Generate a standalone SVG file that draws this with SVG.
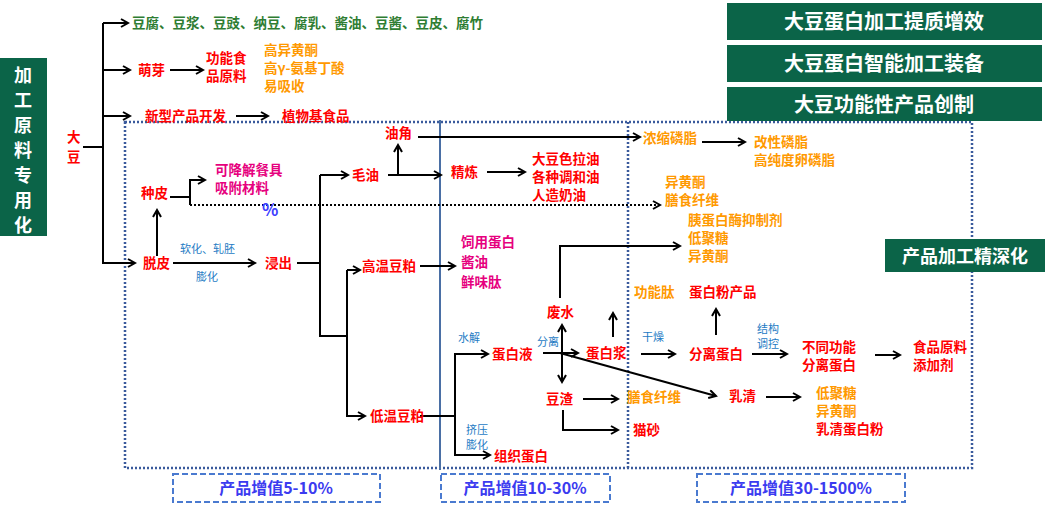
<svg xmlns="http://www.w3.org/2000/svg" width="1047" height="505" viewBox="0 0 1047 505">
<defs>
<marker id="a" markerWidth="10" markerHeight="10" refX="8" refY="5" orient="auto" markerUnits="userSpaceOnUse"><path d="M1,1 L8,5 L1,9" fill="none" stroke="#000" stroke-width="2"/></marker>
<style>
text{font-family:"Noto Sans CJK SC","Liberation Sans",sans-serif;font-weight:bold;font-size:13.5px}
.r{fill:#ff0000}.o{fill:#ff9900}.p{fill:#e6007e}.g{fill:#2e7d32}
.b{fill:#1e7bc4;font-size:11px;font-weight:normal}
.w{fill:#fff;font-size:20px}
.t{fill:#fff;font-size:18px}
.v{fill:#3b3bf0;font-size:16px}
.c path,.c line,.c polyline{stroke:#000;stroke-width:2;fill:none}
.ar{marker-end:url(#a)}
.dot{stroke:#3a5a9c;stroke-width:2.5;stroke-dasharray:2 2;fill:none}
.dash{stroke:#4a7ad0;stroke-width:2;stroke-dasharray:6 3;fill:none}
.gb{fill:#0b6448}
</style>
</defs>
<rect width="1047" height="505" fill="#fff"/>
<g id="frames">
<rect class="dot" x="125" y="122" width="847" height="346"/>
<line class="dot" x1="628" y1="122" x2="628" y2="468"/>
<line x1="440" y1="120" x2="440" y2="470" stroke="#4a6fa5" stroke-width="2"/>
</g>
<g id="leftTitle"><rect class="gb" x="0" y="58" width="47" height="178"/>
<text class="t" x="23" y="82" text-anchor="middle">加</text><text class="t" x="23" y="107" text-anchor="middle">工</text><text class="t" x="23" y="132" text-anchor="middle">原</text><text class="t" x="23" y="157" text-anchor="middle">料</text><text class="t" x="23" y="182" text-anchor="middle">专</text><text class="t" x="23" y="207" text-anchor="middle">用</text><text class="t" x="23" y="232" text-anchor="middle">化</text></g>
<g id="titles">
<rect class="gb" x="727" y="3" width="315" height="37"/><text class="w" x="884" y="29" text-anchor="middle">大豆蛋白加工提质增效</text>
<rect class="gb" x="727" y="45" width="315" height="37"/><text class="w" x="884" y="71" text-anchor="middle">大豆蛋白智能加工装备</text>
<rect class="gb" x="727" y="87" width="315" height="34"/><text class="w" x="884" y="112" text-anchor="middle">大豆功能性产品创制</text>
<rect class="gb" x="885" y="239" width="160" height="33"/><text class="t" x="965" y="263" text-anchor="middle">产品加工精深化</text>
</g>
<g id="valueLabels">
<rect class="dash" x="173" y="474" width="207" height="28"/><text class="v" x="276" y="494" text-anchor="middle">产品增值5-10%</text>
<rect class="dash" x="441" y="474" width="169" height="28"/><text class="v" x="525" y="494" text-anchor="middle">产品增值10-30%</text>
<rect class="dash" x="697" y="474" width="208" height="28"/><text class="v" x="801" y="494" text-anchor="middle">产品增值30-1500%</text>
</g>
<g id="connectors" class="c">
<line x1="83" y1="147" x2="103" y2="147"/>
<line x1="103" y1="23" x2="103" y2="264"/>
<line class="ar" x1="103" y1="23" x2="128" y2="23"/>
<line class="ar" x1="103" y1="70" x2="130" y2="70"/>
<line class="ar" x1="170" y1="70" x2="203" y2="70"/>
<line class="ar" x1="103" y1="116" x2="130" y2="116"/>
<line class="ar" x1="236" y1="116" x2="268" y2="116"/>
<polyline class="ar" points="103,263 135,263"/>
<line class="ar" x1="157" y1="256" x2="157" y2="210"/>
<line x1="170" y1="197" x2="190" y2="197"/>
<polyline class="ar" points="190,205 190,180 205,180"/>
<line class="ar" x1="173" y1="263" x2="255" y2="263"/>
<line x1="297" y1="263" x2="320" y2="263"/>
<line x1="320" y1="175" x2="320" y2="337"/>
<line class="ar" x1="320" y1="175" x2="348" y2="175"/>
<line x1="320" y1="336" x2="347" y2="336"/>
<line x1="347" y1="270" x2="347" y2="417"/>
<line class="ar" x1="347" y1="270" x2="360" y2="270"/>
<line class="ar" x1="347" y1="416" x2="365" y2="416"/>
<line class="ar" x1="420" y1="266" x2="455" y2="266"/>
<line class="ar" x1="388" y1="175" x2="441" y2="175"/>
<line class="ar" x1="398" y1="175" x2="398" y2="145"/>
<line class="ar" x1="418" y1="137" x2="640" y2="137"/>
<line class="ar" x1="702" y1="142" x2="745" y2="142"/>
<line class="ar" x1="487" y1="172" x2="525" y2="172"/>
<line class="ar" x1="190" y1="205" x2="660" y2="205" style="stroke-dasharray:2 2"/>
<line x1="420" y1="416" x2="455" y2="416"/>
<line x1="455" y1="353" x2="455" y2="456"/>
<line class="ar" x1="455" y1="354" x2="488" y2="354"/>
<line class="ar" x1="455" y1="455" x2="490" y2="455"/>
<line class="ar" x1="543" y1="353" x2="578" y2="353"/>
<line class="ar" x1="562" y1="353" x2="562" y2="325"/>
<line class="ar" x1="562" y1="353" x2="562" y2="382"/>
<polyline class="ar" points="560,298 560,246 680,246"/>
<line class="ar" x1="560" y1="353" x2="716" y2="396"/>
<line class="ar" x1="613" y1="337" x2="613" y2="313"/>
<line class="ar" x1="583" y1="399" x2="618" y2="399"/>
<polyline class="ar" points="563,410 563,430 618,430"/>
<line class="ar" x1="641" y1="354" x2="675" y2="354"/>
<line class="ar" x1="716" y1="335" x2="716" y2="309"/>
<line class="ar" x1="752" y1="354" x2="787" y2="354"/>
<line class="ar" x1="875" y1="355" x2="900" y2="355"/>
<line class="ar" x1="766" y1="397" x2="800" y2="397"/>
</g>
<g id="nodes">
<g id="dadou"><text class="r" x="67" y="142">大</text><text class="r" x="67" y="162">豆</text></g>
<g id="trad"><text class="g" x="132" y="28">豆腐、豆浆、豆豉、纳豆、腐乳、酱油、豆酱、豆皮、腐竹</text></g>
<g id="mengya"><text class="r" x="138" y="75">萌芽</text></g>
<g id="gongneng"><text class="r" x="206" y="63">功能食</text><text class="r" x="206" y="81">品原料</text></g>
<g id="gaoyi"><text class="o" x="264" y="55">高异黄酮</text><text class="o" x="264" y="73">高γ-氨基丁酸</text><text class="o" x="264" y="91">易吸收</text></g>
<g id="xinxing"><text class="r" x="145" y="121">新型产品开发</text></g>
<g id="zhiwu"><text class="r" x="282" y="121">植物基食品</text></g>
<g id="zhongpi"><text class="r" x="141" y="198">种皮</text></g>
<g id="kejiang"><text class="p" x="215" y="175">可降解餐具</text><text class="p" x="215" y="193">吸附材料</text></g>
<text x="262" y="216" style="fill:#4040ff;font-size:17px">%</text>
<g id="tuopi"><text class="r" x="143" y="268">脱皮</text></g>
<text class="b" x="180" y="253">软化、轧胚</text><text class="b" x="196" y="281">膨化</text>
<g id="jinchu"><text class="r" x="265" y="268">浸出</text></g>
<g id="maoyou"><text class="r" x="352" y="180">毛油</text></g>
<g id="youjiao"><text class="r" x="385" y="138">油角</text></g>
<g id="jinglian"><text class="r" x="451" y="177">精炼</text></g>
<g id="oil"><text class="r" x="532" y="164">大豆色拉油</text><text class="r" x="532" y="182">各种调和油</text><text class="r" x="532" y="200">人造奶油</text></g>
<g id="gaowen"><text class="r" x="362" y="271">高温豆粕</text></g>
<g id="siyong"><text class="p" x="461" y="247">饲用蛋白</text><text class="p" x="461" y="267">酱油</text><text class="p" x="461" y="287">鲜味肽</text></g>
<g id="diwen"><text class="r" x="370" y="421">低温豆粕</text></g>
<text class="b" x="458" y="342">水解</text>
<g id="danbaiye"><text class="r" x="492" y="359">蛋白液</text></g>
<text class="b" x="537" y="346">分离</text>
<text class="b" x="466" y="434">挤压</text><text class="b" x="466" y="449">膨化</text>
<g id="zuzhi"><text class="r" x="494" y="461">组织蛋白</text></g>
<g id="feishui"><text class="r" x="547" y="317">废水</text></g>
<g id="danbaijiang"><text class="r" x="586" y="358">蛋白浆</text></g>
<g id="douzha"><text class="r" x="546" y="404">豆渣</text></g>
<g id="shanshi"><text class="o" x="627" y="402">膳食纤维</text></g>
<g id="maosha"><text class="r" x="633" y="435">猫砂</text></g>
<g id="nongsuo"><text class="o" x="643" y="143">浓缩磷脂</text></g>
<g id="gaixing"><text class="o" x="754" y="147">改性磷脂</text><text class="o" x="754" y="165">高纯度卵磷脂</text></g>
<g id="yihuang"><text class="o" x="665" y="187">异黄酮</text><text class="o" x="665" y="205">膳食纤维</text></g>
<g id="yi"><text class="o" x="688" y="225">胰蛋白酶抑制剂</text><text class="o" x="688" y="243">低聚糖</text><text class="o" x="688" y="261">异黄酮</text></g>
<g id="gongnengtai"><text class="o" x="634" y="297">功能肽</text></g>
<g id="fenmo"><text class="r" x="689" y="297">蛋白粉产品</text></g>
<text class="b" x="642" y="341">干燥</text>
<g id="fenli"><text class="r" x="689" y="359">分离蛋白</text></g>
<text class="b" x="757" y="333">结构</text><text class="b" x="757" y="348">调控</text>
<g id="butong"><text class="r" x="802" y="352">不同功能</text><text class="r" x="802" y="370">分离蛋白</text></g>
<g id="shipin"><text class="r" x="913" y="352">食品原料</text><text class="r" x="913" y="370">添加剂</text></g>
<g id="ruqing"><text class="r" x="729" y="401">乳清</text></g>
<g id="ruqingp"><text class="o" x="816" y="398">低聚糖</text><text class="o" x="816" y="416">异黄酮</text><text class="r" x="816" y="434">乳清蛋白粉</text></g>
</g>
</svg>
